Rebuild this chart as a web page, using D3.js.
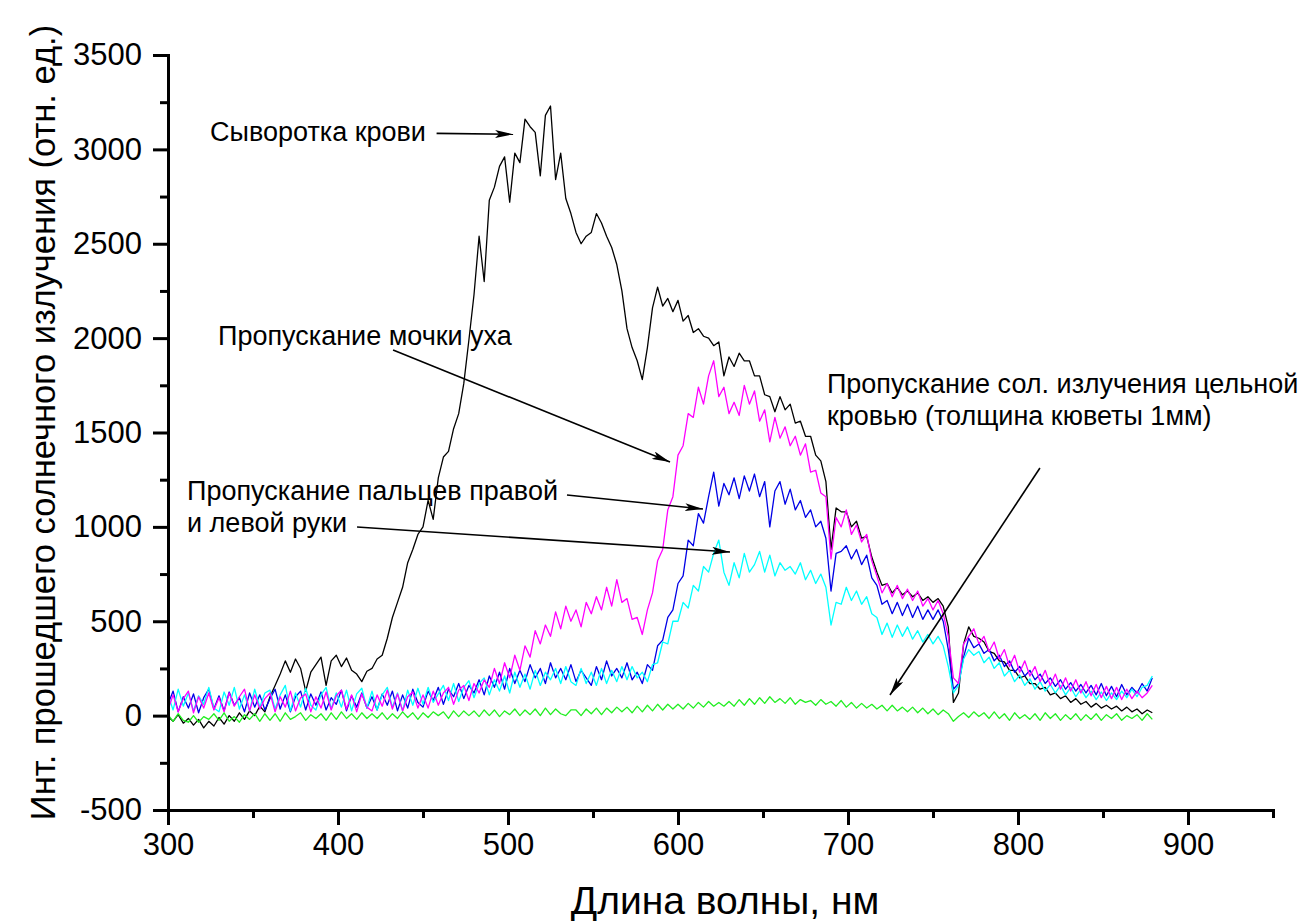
<!DOCTYPE html>
<html>
<head>
<meta charset="utf-8">
<script src="https://cdn.jsdelivr.net/npm/d3@7"></script>
<style>
  body { margin: 0; background: #fff; }
  svg { display: block; }
  text { font-family: "Liberation Sans", Arial, sans-serif; fill: #000; }
</style>
</head>
<body>
<svg id="chart" width="1307" height="921"></svg>
<script>
// Wavelength grid, nm (one sample every 3 nm)
const wavelengths = d3.range(300, 880, 3);

// Blood serum
const serum = [
  -5, -30, 5, -40, -15, -50, -20, -65, -30, -55,
  -10, -45, 0, -30, 15, -20, 25, 0, 50, 20,
  100, 160, 220, 290, 230, 300, 250, 130, 230, 270,
  310, 160, 290, 320, 260, 305, 240, 220, 180, 235,
  250, 300, 320, 410, 520, 600, 680, 810, 880, 960,
  1000, 1140, 1040, 1260, 1370, 1400, 1520, 1600, 1760, 1990,
  2230, 2540, 2300, 2730, 2800, 2910, 2960, 2720, 2980, 2930,
  3160, 3120, 3090, 2860, 3180, 3230, 2840, 2980, 2740, 2660,
  2560, 2500, 2540, 2560, 2660, 2610, 2540, 2480, 2390, 2250,
  2050, 1950, 1880, 1780, 1950, 2160, 2270, 2170, 2210, 2140,
  2200, 2090, 2120, 2030, 2050, 2010, 2000, 1960, 1980, 1800,
  1900, 1850, 1920, 1880, 1880, 1800, 1800, 1700, 1690, 1610,
  1690, 1620, 1650, 1550, 1560, 1480, 1480, 1380, 1350, 1240,
  880, 1100, 1080, 1080, 1000, 1030, 940, 950, 840, 760,
  690, 700, 650, 680, 640, 660, 630, 650, 610, 630,
  600, 620, 580, 470, 70, 120, 380, 470, 420, 410,
  390, 340, 330, 290, 285, 240, 240, 200, 210, 170,
  170, 140, 150, 110, 120, 90, 105, 70, 90, 60,
  75, 45, 65, 40, 55, 35, 50, 25, 45, 20,
  35, 10, 30, 15
];

// Ear lobe transmission
const earLobe = [
  30, 110, 20, 90, 130, 15, 100, 40, 120, 30,
  95, 20, 120, 50, 100, 140, 25, 110, 35, 90,
  120, 20, 100, 45, 130, 25, 95, 115, 20, 100,
  40, 125, 30, 105, 135, 35, 110, 20, 115, 45,
  25, 110, 50, 135, 35, 115, 25, 100, 125, 40,
  110, 40, 130, 55, 120, 150, 60, 135, 160, 80,
  170, 120, 190, 150, 250, 170, 280, 200, 320, 240,
  370, 310, 450, 380, 480, 420, 550, 460, 580, 500,
  560, 470, 600, 540, 630, 560, 680, 580, 720, 600,
  620, 510, 520, 430, 560, 650, 820, 880, 1090, 1160,
  1380, 1430, 1600, 1580, 1740, 1650, 1800, 1880, 1690, 1740,
  1600, 1660, 1590, 1750, 1650, 1720, 1560, 1620, 1450, 1580,
  1470, 1530, 1430, 1480, 1380, 1440, 1290, 1300, 1180, 1160,
  830, 1050, 1000, 1090, 960, 1010, 920, 960, 820, 740,
  650, 700, 630, 690, 620, 670, 610, 660, 580, 620,
  560, 610, 540, 420, 200, 170, 380, 420, 460, 380,
  420, 340, 390, 300, 350, 260, 320, 230, 290, 210,
  260, 180, 240, 160, 220, 140, 200, 130, 190, 120,
  180, 105, 165, 95, 155, 90, 150, 85, 140, 90,
  130, 95, 120, 160
];

// Fingers, right hand
const fingersRight = [
  60, 130, 20, 100, 40, 115, 15, 95, 140, 35,
  105, 25, 125, 55, 95, 20, 120, 45, 110, 30,
  90, 140, 35, 110, 20, 100, 130, 30, 115, 55,
  125, 30, 95, 60, 135, 25, 105, 45, 120, 40,
  100, 30, 115, 55, 130, 25, 110, 40, 140, 70,
  45, 130, 80, 150, 60, 140, 100, 170, 90, 160,
  120, 190, 110, 210, 150, 230, 140, 250, 170, 240,
  180, 270, 200, 250, 170, 280, 200, 250, 190, 270,
  180, 240, 200, 160, 260, 190, 290, 210, 250, 200,
  280, 190, 230, 170, 270, 240, 370, 400, 520, 560,
  700, 740, 930, 900, 1070, 1020, 1160, 1290, 1110, 1230,
  1170, 1260, 1150, 1270, 1190, 1280, 1160, 1240, 1000, 1190,
  1240, 1120, 1200, 1090, 1140, 1050, 1090, 1000, 1030, 940,
  660, 860, 870, 900, 830, 880, 800, 850, 730, 690,
  590, 610, 540, 600, 530, 590, 520, 580, 510, 560,
  510, 560, 500, 350, 140, 170, 310, 410, 360, 380,
  330, 350, 290, 320, 260, 290, 230, 260, 210, 240,
  190, 220, 170, 200, 155, 190, 140, 175, 130, 165,
  120, 160, 110, 170, 105, 155, 100, 165, 110, 150,
  120, 170, 130, 200
];

// Fingers, left hand
const fingersLeft = [
  110, 30, 140, 50, 120, 25, 105, 60, 150, 40,
  20, 125, 55, 150, 35, 110, 25, 140, 45, 120,
  135, 35, 110, 160, 25, 120, 45, 145, 55, 30,
  110, 150, 35, 120, 45, 135, 25, 115, 145, 40,
  130, 30, 110, 150, 45, 120, 25, 135, 55, 145,
  60, 150, 70, 115, 160, 80, 170, 75, 150, 185,
  95, 170, 200, 110, 190, 130, 210, 120, 230, 150,
  220, 140, 240, 160, 230, 190, 250, 170, 260, 180,
  160, 250, 170, 230, 160, 250, 170, 240, 180, 260,
  190, 260, 200, 230, 180, 270, 280, 390, 380, 500,
  500, 600, 570, 690, 660, 790, 760, 860, 930, 760,
  690, 810, 730, 860, 760, 800, 870, 760, 850, 740,
  810, 770, 790, 750, 810, 720, 770, 700, 750, 680,
  480, 600, 590, 680, 610, 660, 590, 630, 540, 520,
  430, 490, 415, 480, 420, 470, 405, 450, 390, 430,
  380, 420, 370, 260, 120, 160, 300, 350, 320, 340,
  280, 310, 250, 280, 210, 240, 180, 215, 160, 195,
  140, 180, 130, 165, 120, 160, 110, 150, 100, 140,
  95, 130, 85, 125, 80, 120, 85, 130, 95, 140,
  100, 150, 160, 210
];

// Whole blood, 1 mm cuvette
const wholeBlood = [
  5, -30, 10, -25, -35, 0, -35, -5, -20, 10,
  -25, 15, -30, -5, -35, 5, -20, 10, -30, 10,
  -25, 10, -30, 15, -20, -5, 15, -25, 5, -15,
  10, -25, 15, -20, 20, -15, 10, -20, 15, -15,
  10, -15, 15, -20, 10, -15, 20, -10, 15, -20,
  15, -10, 20, 0, 20, -15, 25, -5, 25, 0,
  25, -5, 30, 0, 30, -5, 25, 5, 35, 0,
  30, 5, 35, 0, 40, 5, 35, 10, 0, 30,
  30, 0, 35, 10, 40, 5, 40, 15, 45, 20,
  45, 15, 50, 20, 55, 25, 60, 30, 60, 35,
  60, 35, 65, 40, 70, 45, 75, 50, 70, 50,
  75, 50, 85, 55, 90, 60, 95, 65, 100, 70,
  90, 65, 95, 60, 85, 70, 80, 55, 85, 60,
  75, 50, 80, 45, 70, 40, 65, 40, 60, 35,
  55, 25, 55, 25, 45, 20, 45, 15, 40, 10,
  35, 5, 30, 10, -30, -5, 15, -10, 20, -5,
  15, -15, 20, -15, 10, -25, 15, -15, 5, -20,
  10, -25, 15, -15, 10, -25, 5, -20, 10, -25,
  5, -20, 10, -25, 5, -15, 10, -25, 0, -15,
  5, -25, 10, -20
];

const xTicks = [300, 400, 500, 600, 700, 800, 900];
const xMinorTicks = [350, 450, 550, 650, 750, 850, 950];
const yTicks = [-500, 0, 500, 1000, 1500, 2000, 2500, 3000, 3500];
const yMinorTicks = [-250, 250, 750, 1250, 1750, 2250, 2750, 3250];

const xTitle = "Длина волны, нм";
const yTitle = "Инт. прошедшего солнечного излучения (отн. ед.)";

// series drawn back to front
const series = [
  { name: "serum", values: serum, color: "#000000" },
  { name: "fingersRight", values: fingersRight, color: "#0000e6" },
  { name: "fingersLeft", values: fingersLeft, color: "#00ffff" },
  { name: "earLobe", values: earLobe, color: "#ff00ff" },
  { name: "wholeBlood", values: wholeBlood, color: "#22ee22" }
];

// callouts: text lines anchored at a data point, arrows between data points
const callouts = [
  { lines: ["Сыворотка крови"], at: [324.7, 3044], arrow: [[458, 3085], [503, 3080]] },
  { lines: ["Пропускание мочки уха"], at: [329.4, 1964], arrow: [[432.4, 1937], [595.3, 1344]] },
  { lines: ["Пропускание пальцев правой", "и левой руки"], at: [311.2, 1142],
    arrow: [[534.7, 1169], [614.7, 1095]] },
  { lines: [], at: null, arrow: [[411.2, 999], [630.6, 867]] },
  { lines: ["Пропускание сол. излучения цельной", "кровью (толщина кюветы 1мм)"], at: [687.6, 1709],
    arrow: [[812.9, 1312], [724.7, 109]] }
];

const svg = d3.select("#chart");
const x = d3.scaleLinear().domain([300, 950]).range([168, 1273]);
const y = d3.scaleLinear().domain([-500, 3500]).range([810, 55]);

// spectra
const line = d3.line().x((d, i) => x(wavelengths[i])).y(d => y(d));
svg.append("g").selectAll("path").data(series).join("path")
  .attr("d", d => line(d.values))
  .attr("fill", "none")
  .attr("stroke", d => d.color)
  .attr("stroke-width", 1.3)
  .attr("stroke-linejoin", "round");

// axes
function styleAxis(g) {
  g.selectAll(".domain").attr("stroke", "#000").attr("stroke-width", 3).attr("stroke-linecap", "square");
  g.selectAll(".tick line").attr("stroke", "#000").attr("stroke-width", 3);
  g.selectAll(".tick text").style("font-size", "31px").attr("fill", "#000");
}
const fmt = d => String(d);

svg.append("g").attr("transform", `translate(0,${y(-500)})`)
  .call(d3.axisBottom(x).tickValues(xMinorTicks).tickSize(8).tickSizeOuter(0).tickFormat(""))
  .call(styleAxis);
svg.append("g").attr("transform", `translate(0,${y(-500)})`)
  .call(d3.axisBottom(x).tickValues(xTicks).tickSize(15).tickSizeOuter(0).tickPadding(8).tickFormat(fmt))
  .call(styleAxis);
svg.append("g").attr("transform", `translate(${x(300)},0)`)
  .call(d3.axisLeft(y).tickValues(yMinorTicks).tickSize(8).tickSizeOuter(0).tickFormat(""))
  .call(styleAxis);
svg.append("g").attr("transform", `translate(${x(300)},0)`)
  .call(d3.axisLeft(y).tickValues(yTicks).tickSize(15).tickSizeOuter(0).tickPadding(11).tickFormat(fmt))
  .call(styleAxis);

// axis titles
svg.append("text")
  .attr("x", 725).attr("y", 914)
  .attr("text-anchor", "middle").style("font-size", "39px")
  .text(xTitle);
svg.append("text")
  .attr("transform", `translate(55,${(y(-500) + y(3500)) / 2 - 10}) rotate(-90)`)
  .attr("text-anchor", "middle").style("font-size", "34.5px")
  .text(yTitle);

// arrowhead
svg.append("defs").append("marker")
  .attr("id", "head").attr("markerUnits", "userSpaceOnUse")
  .attr("viewBox", "0 0 18 8").attr("refX", 18).attr("refY", 4)
  .attr("markerWidth", 18).attr("markerHeight", 8).attr("orient", "auto")
  .append("path").attr("d", "M0,0 L18,4 L0,8 L4,4 Z").attr("fill", "#000");

const notes = svg.append("g");
callouts.forEach(c => {
  const [a, b] = c.arrow;
  notes.append("line")
    .attr("x1", x(a[0])).attr("y1", y(a[1]))
    .attr("x2", x(b[0])).attr("y2", y(b[1]))
    .attr("stroke", "#000").attr("stroke-width", 1.6)
    .attr("marker-end", "url(#head)");
  if (c.at) {
    const t = notes.append("text")
      .attr("x", x(c.at[0])).attr("y", y(c.at[1]))
      .style("font-size", "27px");
    c.lines.forEach((s, i) => t.append("tspan")
      .attr("x", x(c.at[0])).attr("dy", i === 0 ? 0 : 32).text(s));
  }
});
</script>
</body>
</html>
